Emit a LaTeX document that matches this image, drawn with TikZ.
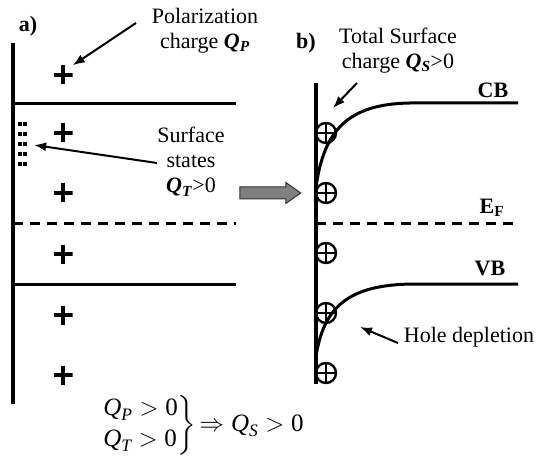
\documentclass[tikz,border=0pt]{standalone}
\usepackage{amsmath}
\usepackage{fontspec}
\setmainfont{Liberation Serif}
\usetikzlibrary{arrows.meta,shapes.arrows}
\begin{document}
\begin{tikzpicture}[x=1pt,y=-1pt,
  txt/.style={font=\fontsize{22}{25}\selectfont, inner sep=0pt, align=center},
  lbl/.style={font=\fontsize{22}{25}\selectfont\bfseries, inner sep=0pt},
  wall/.style={line width=3.6pt},
  band/.style={line width=3pt},
  fermi/.style={line width=3pt, dash pattern=on 10pt off 7pt},
  arr/.style={line width=2pt, -{Latex[length=12pt,width=9pt]}},
  plusmark/.style={rectangle, minimum size=19pt, inner sep=0pt,
    path picture={\draw[line width=3.4pt] (path picture bounding box.west) -- (path picture bounding box.east)
      (path picture bounding box.north) -- (path picture bounding box.south);}},
  oplus/.style={circle, draw, line width=2.4pt, minimum size=20pt, inner sep=0pt,
    path picture={\draw[line width=2.4pt] (path picture bounding box.west) -- (path picture bounding box.east)
      (path picture bounding box.north) -- (path picture bounding box.south);}},
  sdot/.style={rectangle, fill, minimum width=4pt, minimum height=3.5pt, inner sep=0pt},
]
\useasboundingbox (0,0) rectangle (536,468);

% ---------- panel a ----------
\coordinate (aTop) at (13,43);
\coordinate (aBot) at (13,404);
\draw[wall] (aTop) -- (aBot);
\coordinate (cbL) at (13,104);  \coordinate (cbR) at (236,104);
\coordinate (efL) at (13,224);  \coordinate (efR) at (236,224);
\coordinate (vbL) at (13,284);  \coordinate (vbR) at (236,284);
\draw[band] (cbL) -- (cbR);
\draw[fermi] (efL) -- (efR);
\draw[band] (vbL) -- (vbR);

\node[lbl] (la) at (28,26) {a)};

\foreach \i/\y in {1/75,2/133,3/193,4/254,5/315,6/375}
  \node[plusmark] (p\i) at (63,\y) {};

\foreach \r/\y in {1/124,2/134,3/144,4/154,5/164}{
  \node[sdot] (d\r a) at (19.5,\y) {};
  \node[sdot] (d\r b) at (25,\y) {};
}

\node[txt] (pol) at (205,31) {Polarization\\charge \textbf{\textit{Q}\textsubscript{\textit{P}}}};
\coordinate (poltail) at (136,23);
\draw[arr] (poltail) -- (p1.north east);

\node[txt] (ss) at (191,162) {Surface\\states\\\textbf{\textit{Q}\textsubscript{\textit{T}}}>0};
\coordinate (sstail) at (157,163);
\draw[arr, shorten >=7pt] (sstail) -- (d3b.east);

% big gray arrow
\node[single arrow, fill=black!50, draw=black!80, line width=1pt,
  inner xsep=0pt, inner ysep=5.5pt, minimum width=0pt,
  single arrow head extend=4.5pt, single arrow tip angle=70,
  minimum height=61pt] (big) at (266,193) {};

% ---------- panel b ----------
\coordinate (bTop) at (316,83);
\coordinate (bBot) at (316,384);
\draw[wall] (bTop) -- (bBot);
\coordinate (cbS) at (316,187);
\coordinate (cbE) at (518,103);
\draw[band] (cbS) .. controls (324,130) and (348,104) .. (410,103) -- (cbE);
\coordinate (efS) at (316,224);
\coordinate (efE) at (518,224);
\draw[fermi] (efS) -- (efE);
\coordinate (vbS) at (316,356);
\coordinate (vbE) at (518,284);
\draw[band] (vbS) .. controls (324,307) and (348,285) .. (412,284) -- (vbE);

\foreach \i/\y in {1/133,2/193,3/253,4/313,5/373}
  \node[oplus] (c\i) at (326,\y) {};

\node[lbl] (lb) at (306,43) {b)};
\node[txt] (tot) at (398,51) {Total Surface\\charge \textbf{\textit{Q}\textsubscript{\textit{S}}}>0};
\coordinate (qstail) at (357,83);
\coordinate (qstip) at (333,108);
\draw[arr] (qstail) -- (qstip);

\node[lbl] (cb) at (493,90) {CB};
\node[lbl] (ef) at (492,208) {E\textsubscript{F}};
\node[lbl] (vb) at (490,268) {VB};

\node[txt] (hole) at (469,337) {Hole depletion};
\coordinate (holetail) at (398,343);
\coordinate (holetip) at (360,327);
\draw[arr] (holetail) -- (holetip);

% ---------- formula ----------
\node[inner sep=0pt, anchor=west, font=\fontsize{25}{29}\selectfont] (form) at (102,425) {\renewcommand{\arraystretch}{1.08}$\left.\begin{array}{@{}l@{}}\textit{Q}_{\textit{P}}>\text{0}\\ \textit{Q}_{\textit{T}}>\text{0}\end{array}\right\}\!\Rightarrow \textit{Q}_{\textit{S}}>\text{0}$};
\end{tikzpicture}
\end{document}
